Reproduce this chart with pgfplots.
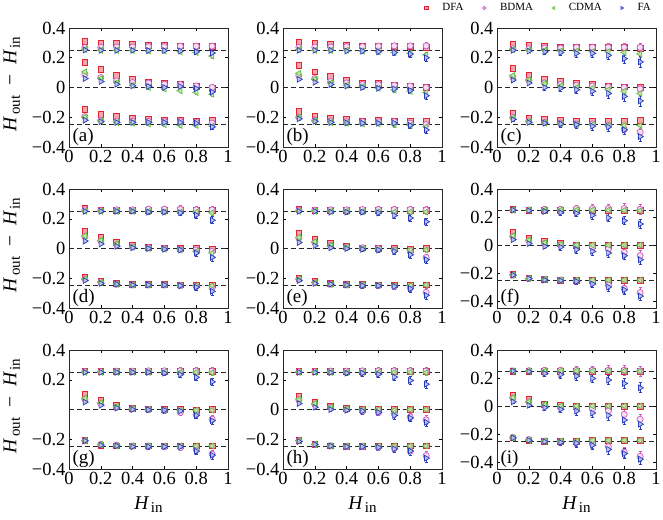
\documentclass[border=0pt]{standalone}
\usepackage{fontspec}
\setmainfont{Liberation Serif}
\newfontfamily\tms{Liberation Serif}
\usepackage{pgfplots}
\usepackage{pgfplotstable}
\pgfplotsset{compat=1.18}

\definecolor{cdfa}{RGB}{232,32,48}
\definecolor{cbdma}{RGB}{208,90,190}
\definecolor{ccdma}{RGB}{100,190,60}
\definecolor{cfa}{RGB}{40,60,190}

% columns: x, DFA (d,de), BDMA (b,be), CDMA (c,ce), FA (f,fe); three groups per panel
\pgfplotstableread{
x d de b be c ce f fe
0.1 0.310 0.008 0.268 0.010 0.255 0.010 0.252 0.008
0.2 0.300 0.008 0.270 0.010 0.250 0.010 0.250 0.008
0.3 0.295 0.008 0.272 0.012 0.250 0.010 0.250 0.010
0.4 0.290 0.008 0.272 0.012 0.248 0.010 0.250 0.010
0.5 0.283 0.008 0.275 0.014 0.245 0.012 0.248 0.012
0.6 0.285 0.008 0.275 0.015 0.245 0.012 0.248 0.012
0.7 0.280 0.008 0.278 0.018 0.240 0.012 0.245 0.014
0.8 0.280 0.008 0.278 0.020 0.235 0.015 0.240 0.016
0.9 0.277 0.010 0.278 0.020 0.212 0.015 0.232 0.018
0.1 0.167 0.008 0.090 0.010 0.105 0.010 0.060 0.008
0.2 0.120 0.008 0.067 0.010 0.060 0.010 0.040 0.008
0.3 0.083 0.008 0.045 0.012 0.033 0.010 0.022 0.010
0.4 0.056 0.008 0.033 0.012 0.015 0.010 0.011 0.010
0.5 0.033 0.008 0.030 0.014 0.000 0.012 0.007 0.012
0.6 0.030 0.008 0.022 0.015 -0.010 0.012 0.000 0.012
0.7 0.022 0.008 0.020 0.018 -0.022 0.012 0.007 0.014
0.8 0.007 0.008 0.010 0.018 -0.033 0.015 -0.007 0.016
0.9 -0.007 0.010 0.000 0.020 -0.045 0.015 -0.030 0.018
0.1 -0.147 0.008 -0.196 0.010 -0.200 0.010 -0.220 0.008
0.2 -0.180 0.008 -0.220 0.010 -0.225 0.010 -0.230 0.008
0.3 -0.196 0.008 -0.225 0.012 -0.235 0.010 -0.235 0.010
0.4 -0.207 0.008 -0.228 0.012 -0.240 0.010 -0.235 0.010
0.5 -0.214 0.008 -0.228 0.014 -0.245 0.012 -0.235 0.012
0.6 -0.219 0.008 -0.230 0.015 -0.250 0.012 -0.235 0.012
0.7 -0.219 0.008 -0.230 0.015 -0.255 0.012 -0.235 0.014
0.8 -0.225 0.008 -0.235 0.018 -0.255 0.015 -0.240 0.016
0.9 -0.220 0.010 -0.240 0.020 -0.260 0.015 -0.265 0.018
}\tabA

\pgfplotstableread{
x d de b be c ce f fe
0.1 0.305 0.008 0.270 0.010 0.255 0.010 0.250 0.008
0.2 0.295 0.008 0.272 0.010 0.250 0.010 0.250 0.010
0.3 0.290 0.008 0.272 0.012 0.250 0.010 0.250 0.010
0.4 0.285 0.008 0.275 0.012 0.250 0.012 0.245 0.012
0.5 0.280 0.008 0.275 0.014 0.245 0.012 0.245 0.014
0.6 0.280 0.008 0.278 0.016 0.240 0.012 0.240 0.016
0.7 0.275 0.008 0.280 0.020 0.235 0.015 0.235 0.020
0.8 0.275 0.008 0.280 0.020 0.230 0.015 0.225 0.022
0.9 0.270 0.010 0.280 0.022 0.220 0.018 0.200 0.025
0.1 0.150 0.008 0.080 0.010 0.095 0.010 0.055 0.008
0.2 0.105 0.008 0.060 0.010 0.055 0.010 0.035 0.010
0.3 0.074 0.008 0.040 0.012 0.030 0.010 0.020 0.010
0.4 0.050 0.008 0.030 0.012 0.015 0.012 0.010 0.012
0.5 0.027 0.008 0.020 0.014 0.005 0.012 0.000 0.014
0.6 0.030 0.008 0.020 0.016 -0.005 0.012 -0.005 0.016
0.7 0.018 0.008 0.015 0.018 -0.015 0.015 -0.010 0.018
0.8 0.007 0.008 0.010 0.020 -0.025 0.015 -0.020 0.020
0.9 0.000 0.010 0.000 0.022 -0.035 0.018 -0.055 0.025
0.1 -0.163 0.008 -0.200 0.010 -0.200 0.010 -0.210 0.008
0.2 -0.192 0.008 -0.220 0.010 -0.225 0.010 -0.228 0.010
0.3 -0.205 0.008 -0.225 0.012 -0.235 0.010 -0.235 0.010
0.4 -0.214 0.008 -0.230 0.012 -0.240 0.012 -0.238 0.012
0.5 -0.225 0.008 -0.230 0.014 -0.245 0.012 -0.240 0.014
0.6 -0.219 0.008 -0.230 0.016 -0.245 0.012 -0.240 0.016
0.7 -0.225 0.008 -0.230 0.018 -0.250 0.015 -0.240 0.018
0.8 -0.228 0.008 -0.240 0.020 -0.255 0.015 -0.255 0.020
0.9 -0.230 0.010 -0.250 0.022 -0.265 0.018 -0.285 0.025
}\tabB

\pgfplotstableread{
x d de b be c ce f fe
0.1 0.290 0.008 0.260 0.010 0.255 0.010 0.250 0.010
0.2 0.282 0.008 0.260 0.012 0.250 0.010 0.245 0.012
0.3 0.275 0.008 0.265 0.014 0.250 0.012 0.240 0.016
0.4 0.270 0.008 0.265 0.016 0.245 0.012 0.235 0.020
0.5 0.270 0.008 0.270 0.018 0.245 0.014 0.230 0.024
0.6 0.270 0.008 0.270 0.022 0.240 0.015 0.230 0.028
0.7 0.268 0.008 0.270 0.024 0.240 0.016 0.216 0.030
0.8 0.268 0.008 0.270 0.025 0.235 0.018 0.194 0.032
0.9 0.265 0.010 0.270 0.025 0.225 0.020 0.172 0.035
0.1 0.127 0.008 0.070 0.010 0.080 0.010 0.050 0.010
0.2 0.085 0.008 0.050 0.012 0.050 0.010 0.030 0.012
0.3 0.056 0.008 0.030 0.014 0.025 0.012 0.000 0.016
0.4 0.045 0.008 0.020 0.016 0.010 0.012 -0.005 0.020
0.5 0.027 0.008 0.015 0.018 0.000 0.014 -0.015 0.024
0.6 0.022 0.008 0.010 0.020 -0.005 0.015 -0.025 0.028
0.7 0.011 0.008 0.005 0.022 -0.015 0.016 -0.040 0.030
0.8 0.004 0.008 0.000 0.024 -0.025 0.018 -0.060 0.032
0.9 0.000 0.010 -0.010 0.025 -0.040 0.020 -0.090 0.035
0.1 -0.175 0.008 -0.200 0.010 -0.205 0.010 -0.215 0.010
0.2 -0.205 0.008 -0.225 0.012 -0.230 0.010 -0.235 0.012
0.3 -0.215 0.008 -0.235 0.014 -0.240 0.012 -0.240 0.016
0.4 -0.220 0.008 -0.240 0.016 -0.245 0.012 -0.245 0.020
0.5 -0.225 0.008 -0.245 0.018 -0.250 0.014 -0.250 0.022
0.6 -0.225 0.008 -0.245 0.020 -0.250 0.015 -0.260 0.026
0.7 -0.225 0.008 -0.255 0.022 -0.255 0.016 -0.265 0.028
0.8 -0.225 0.008 -0.280 0.024 -0.255 0.018 -0.285 0.030
0.9 -0.220 0.010 -0.300 0.025 -0.255 0.020 -0.330 0.032
}\tabC

\pgfplotstableread{
x d de b be c ce f fe
0.1 0.270 0.008 0.260 0.010 0.250 0.010 0.250 0.008
0.2 0.260 0.008 0.255 0.012 0.250 0.010 0.250 0.010
0.3 0.255 0.008 0.260 0.014 0.250 0.010 0.250 0.012
0.4 0.255 0.008 0.260 0.016 0.250 0.012 0.250 0.014
0.5 0.255 0.008 0.265 0.018 0.250 0.012 0.245 0.014
0.6 0.255 0.008 0.265 0.020 0.245 0.012 0.245 0.016
0.7 0.255 0.008 0.265 0.022 0.245 0.014 0.240 0.018
0.8 0.255 0.008 0.260 0.022 0.245 0.015 0.225 0.020
0.9 0.255 0.010 0.260 0.024 0.240 0.016 0.190 0.024
0.1 0.114 0.008 0.080 0.010 0.085 0.010 0.050 0.008
0.2 0.074 0.008 0.050 0.012 0.055 0.010 0.030 0.010
0.3 0.042 0.008 0.025 0.014 0.030 0.010 0.015 0.012
0.4 0.020 0.008 0.010 0.016 0.010 0.012 0.005 0.014
0.5 0.010 0.008 0.005 0.016 0.000 0.012 0.000 0.014
0.6 0.005 0.008 0.000 0.018 -0.005 0.012 -0.005 0.016
0.7 0.000 0.008 -0.005 0.020 -0.010 0.014 -0.010 0.018
0.8 0.000 0.008 -0.010 0.022 -0.020 0.015 -0.030 0.020
0.9 -0.005 0.010 -0.020 0.024 -0.030 0.016 -0.060 0.024
0.1 -0.195 0.008 -0.205 0.010 -0.205 0.010 -0.215 0.008
0.2 -0.220 0.008 -0.225 0.012 -0.228 0.010 -0.235 0.010
0.3 -0.235 0.008 -0.240 0.014 -0.240 0.010 -0.240 0.012
0.4 -0.240 0.008 -0.245 0.014 -0.245 0.012 -0.245 0.014
0.5 -0.240 0.008 -0.245 0.016 -0.245 0.012 -0.245 0.014
0.6 -0.240 0.008 -0.245 0.018 -0.245 0.012 -0.245 0.016
0.7 -0.245 0.008 -0.250 0.020 -0.250 0.014 -0.250 0.018
0.8 -0.245 0.008 -0.255 0.020 -0.250 0.015 -0.260 0.020
0.9 -0.245 0.010 -0.265 0.022 -0.250 0.016 -0.288 0.024
}\tabD

\pgfplotstableread{
x d de b be c ce f fe
0.1 0.265 0.008 0.258 0.010 0.250 0.010 0.250 0.008
0.2 0.255 0.008 0.258 0.012 0.250 0.010 0.250 0.010
0.3 0.255 0.008 0.260 0.014 0.250 0.010 0.245 0.012
0.4 0.255 0.008 0.260 0.016 0.250 0.012 0.245 0.014
0.5 0.255 0.008 0.262 0.018 0.248 0.012 0.245 0.016
0.6 0.255 0.008 0.262 0.020 0.248 0.012 0.240 0.018
0.7 0.255 0.008 0.262 0.022 0.245 0.014 0.222 0.020
0.8 0.255 0.008 0.262 0.024 0.245 0.015 0.205 0.022
0.9 0.255 0.010 0.260 0.024 0.245 0.016 0.180 0.026
0.1 0.100 0.008 0.070 0.010 0.075 0.010 0.040 0.008
0.2 0.065 0.008 0.040 0.012 0.045 0.010 0.018 0.010
0.3 0.035 0.008 0.020 0.014 0.020 0.010 0.005 0.012
0.4 0.015 0.008 0.010 0.016 0.010 0.012 0.000 0.014
0.5 0.005 0.008 0.005 0.018 0.000 0.012 -0.005 0.016
0.6 0.000 0.008 0.000 0.020 -0.005 0.012 -0.010 0.018
0.7 0.000 0.008 -0.010 0.022 -0.010 0.014 -0.020 0.020
0.8 -0.005 0.008 -0.020 0.024 -0.010 0.015 -0.042 0.022
0.9 0.000 0.010 -0.060 0.024 -0.010 0.016 -0.075 0.026
0.1 -0.200 0.008 -0.205 0.010 -0.205 0.010 -0.215 0.008
0.2 -0.220 0.008 -0.230 0.012 -0.228 0.010 -0.235 0.010
0.3 -0.235 0.008 -0.240 0.014 -0.240 0.010 -0.240 0.012
0.4 -0.240 0.008 -0.245 0.016 -0.245 0.012 -0.245 0.014
0.5 -0.240 0.008 -0.245 0.018 -0.245 0.012 -0.250 0.016
0.6 -0.245 0.008 -0.250 0.020 -0.245 0.012 -0.250 0.018
0.7 -0.245 0.008 -0.255 0.022 -0.250 0.014 -0.255 0.020
0.8 -0.245 0.008 -0.265 0.024 -0.250 0.015 -0.270 0.022
0.9 -0.245 0.010 -0.295 0.024 -0.245 0.016 -0.315 0.026
}\tabE

\pgfplotstableread{
x d de b be c ce f fe
0.1 0.257 0.008 0.250 0.010 0.250 0.010 0.250 0.008
0.2 0.250 0.008 0.250 0.014 0.250 0.010 0.245 0.012
0.3 0.250 0.008 0.255 0.018 0.250 0.012 0.240 0.016
0.4 0.250 0.008 0.255 0.022 0.250 0.012 0.232 0.020
0.5 0.250 0.008 0.260 0.026 0.250 0.014 0.226 0.024
0.6 0.250 0.008 0.260 0.030 0.250 0.015 0.212 0.026
0.7 0.250 0.008 0.260 0.032 0.250 0.016 0.195 0.028
0.8 0.250 0.008 0.260 0.034 0.248 0.018 0.174 0.030
0.9 0.250 0.010 0.255 0.035 0.245 0.020 0.150 0.032
0.1 0.093 0.008 0.060 0.010 0.065 0.010 0.038 0.008
0.2 0.050 0.008 0.030 0.014 0.035 0.010 0.010 0.012
0.3 0.030 0.008 0.010 0.018 0.015 0.012 -0.010 0.016
0.4 0.010 0.008 0.000 0.022 0.005 0.012 -0.015 0.020
0.5 0.000 0.008 -0.005 0.026 0.000 0.014 -0.033 0.024
0.6 0.000 0.008 -0.015 0.030 0.000 0.015 -0.045 0.026
0.7 0.000 0.008 -0.030 0.032 0.000 0.016 -0.057 0.028
0.8 0.000 0.008 -0.052 0.034 0.000 0.018 -0.076 0.030
0.9 0.000 0.010 -0.076 0.035 0.000 0.020 -0.105 0.032
0.1 -0.210 0.008 -0.215 0.010 -0.215 0.010 -0.215 0.008
0.2 -0.235 0.008 -0.240 0.014 -0.240 0.010 -0.240 0.012
0.3 -0.245 0.008 -0.245 0.018 -0.245 0.012 -0.250 0.016
0.4 -0.250 0.008 -0.250 0.022 -0.250 0.012 -0.255 0.020
0.5 -0.250 0.008 -0.255 0.026 -0.250 0.014 -0.260 0.024
0.6 -0.250 0.008 -0.260 0.030 -0.250 0.015 -0.279 0.026
0.7 -0.250 0.008 -0.286 0.032 -0.250 0.016 -0.300 0.028
0.8 -0.250 0.008 -0.310 0.034 -0.250 0.018 -0.320 0.030
0.9 -0.250 0.010 -0.340 0.035 -0.250 0.020 -0.365 0.032
}\tabF

\pgfplotstableread{
x d de b be c ce f fe
0.1 0.260 0.008 0.255 0.010 0.250 0.010 0.250 0.008
0.2 0.255 0.008 0.255 0.012 0.250 0.010 0.250 0.010
0.3 0.255 0.008 0.258 0.014 0.250 0.010 0.250 0.012
0.4 0.255 0.008 0.258 0.016 0.250 0.012 0.250 0.014
0.5 0.255 0.008 0.260 0.018 0.250 0.012 0.250 0.016
0.6 0.255 0.008 0.260 0.020 0.250 0.012 0.245 0.018
0.7 0.255 0.008 0.260 0.022 0.250 0.014 0.235 0.020
0.8 0.255 0.008 0.260 0.024 0.250 0.015 0.216 0.022
0.9 0.255 0.010 0.258 0.024 0.248 0.016 0.186 0.026
0.1 0.100 0.008 0.070 0.010 0.075 0.010 0.050 0.008
0.2 0.060 0.008 0.040 0.012 0.045 0.010 0.028 0.010
0.3 0.030 0.008 0.015 0.014 0.020 0.010 0.010 0.012
0.4 0.010 0.008 0.005 0.016 0.005 0.012 0.000 0.014
0.5 0.005 0.008 0.000 0.018 0.000 0.012 -0.002 0.016
0.6 0.000 0.008 -0.005 0.020 -0.005 0.012 -0.005 0.018
0.7 0.000 0.008 -0.020 0.022 -0.005 0.014 -0.010 0.020
0.8 -0.005 0.008 -0.035 0.024 -0.005 0.015 -0.040 0.022
0.9 0.000 0.010 -0.065 0.024 -0.005 0.016 -0.075 0.026
0.1 -0.207 0.008 -0.210 0.010 -0.210 0.010 -0.210 0.008
0.2 -0.240 0.008 -0.235 0.012 -0.235 0.010 -0.240 0.010
0.3 -0.245 0.008 -0.240 0.014 -0.245 0.010 -0.245 0.012
0.4 -0.245 0.008 -0.245 0.016 -0.245 0.012 -0.250 0.014
0.5 -0.245 0.008 -0.245 0.018 -0.245 0.012 -0.250 0.016
0.6 -0.245 0.008 -0.250 0.020 -0.245 0.012 -0.250 0.018
0.7 -0.245 0.008 -0.255 0.022 -0.245 0.014 -0.250 0.020
0.8 -0.245 0.008 -0.270 0.024 -0.245 0.015 -0.280 0.022
0.9 -0.245 0.010 -0.300 0.024 -0.245 0.016 -0.307 0.026
}\tabG

\pgfplotstableread{
x d de b be c ce f fe
0.1 0.255 0.008 0.255 0.010 0.250 0.010 0.250 0.008
0.2 0.255 0.008 0.255 0.012 0.250 0.010 0.250 0.012
0.3 0.255 0.008 0.258 0.014 0.250 0.010 0.248 0.014
0.4 0.255 0.008 0.258 0.018 0.250 0.012 0.245 0.016
0.5 0.255 0.008 0.260 0.020 0.250 0.012 0.245 0.020
0.6 0.255 0.008 0.260 0.022 0.250 0.012 0.237 0.022
0.7 0.255 0.008 0.260 0.024 0.250 0.014 0.218 0.024
0.8 0.255 0.008 0.260 0.026 0.250 0.015 0.195 0.026
0.9 0.255 0.010 0.258 0.028 0.248 0.016 0.170 0.028
0.1 0.088 0.008 0.065 0.010 0.070 0.010 0.040 0.008
0.2 0.050 0.008 0.035 0.012 0.040 0.010 0.015 0.012
0.3 0.020 0.008 0.015 0.014 0.015 0.010 0.000 0.014
0.4 0.010 0.008 0.000 0.018 0.005 0.012 -0.005 0.016
0.5 0.000 0.008 -0.010 0.020 0.000 0.012 -0.010 0.020
0.6 0.000 0.008 -0.020 0.022 0.000 0.012 -0.020 0.022
0.7 0.000 0.008 -0.030 0.024 -0.005 0.014 -0.040 0.024
0.8 0.000 0.008 -0.050 0.026 0.000 0.015 -0.057 0.026
0.9 0.000 0.010 -0.070 0.028 0.000 0.016 -0.086 0.028
0.1 -0.205 0.008 -0.210 0.010 -0.210 0.010 -0.215 0.008
0.2 -0.235 0.008 -0.235 0.012 -0.235 0.010 -0.235 0.012
0.3 -0.245 0.008 -0.245 0.014 -0.245 0.010 -0.245 0.014
0.4 -0.250 0.008 -0.250 0.018 -0.245 0.012 -0.250 0.016
0.5 -0.250 0.008 -0.250 0.020 -0.245 0.012 -0.250 0.020
0.6 -0.245 0.008 -0.255 0.022 -0.245 0.012 -0.255 0.022
0.7 -0.245 0.008 -0.260 0.024 -0.245 0.014 -0.265 0.024
0.8 -0.245 0.008 -0.280 0.026 -0.245 0.015 -0.280 0.026
0.9 -0.245 0.010 -0.310 0.028 -0.245 0.016 -0.327 0.028
}\tabH

\pgfplotstableread{
x d de b be c ce f fe
0.1 0.250 0.008 0.250 0.010 0.250 0.010 0.250 0.008
0.2 0.250 0.008 0.252 0.016 0.250 0.010 0.245 0.014
0.3 0.250 0.008 0.255 0.020 0.250 0.012 0.233 0.020
0.4 0.250 0.008 0.255 0.024 0.250 0.012 0.224 0.024
0.5 0.250 0.008 0.255 0.028 0.250 0.014 0.214 0.028
0.6 0.250 0.008 0.255 0.030 0.250 0.015 0.197 0.030
0.7 0.250 0.008 0.255 0.032 0.250 0.016 0.185 0.032
0.8 0.250 0.008 0.255 0.034 0.250 0.018 0.161 0.034
0.9 0.250 0.010 0.250 0.035 0.248 0.020 0.130 0.036
0.1 0.077 0.008 0.055 0.010 0.060 0.010 0.030 0.008
0.2 0.046 0.008 0.030 0.016 0.030 0.010 0.005 0.014
0.3 0.010 0.008 0.005 0.020 0.010 0.012 -0.012 0.020
0.4 0.005 0.008 -0.010 0.024 0.000 0.012 -0.024 0.024
0.5 0.000 0.008 -0.015 0.028 0.000 0.014 -0.036 0.028
0.6 0.000 0.008 -0.020 0.030 0.000 0.015 -0.050 0.030
0.7 0.000 0.008 -0.035 0.032 0.000 0.016 -0.067 0.032
0.8 0.000 0.008 -0.060 0.034 0.000 0.018 -0.100 0.034
0.9 0.000 0.010 -0.095 0.035 0.000 0.020 -0.130 0.036
0.1 -0.228 0.008 -0.225 0.010 -0.228 0.010 -0.228 0.008
0.2 -0.245 0.008 -0.240 0.016 -0.245 0.010 -0.245 0.014
0.3 -0.250 0.008 -0.250 0.020 -0.250 0.012 -0.255 0.020
0.4 -0.250 0.008 -0.255 0.024 -0.250 0.012 -0.260 0.024
0.5 -0.250 0.008 -0.260 0.028 -0.250 0.014 -0.265 0.028
0.6 -0.245 0.008 -0.270 0.030 -0.245 0.015 -0.280 0.030
0.7 -0.245 0.008 -0.290 0.032 -0.245 0.016 -0.310 0.032
0.8 -0.245 0.008 -0.330 0.034 -0.245 0.018 -0.340 0.034
0.9 -0.245 0.010 -0.360 0.035 -0.245 0.020 -0.380 0.036
}\tabI

\newcommand{\Hs}[1]{\textit{H}\kern1.5pt\raisebox{-0.4ex}{\fontsize{15}{15}\selectfont #1}}
\newcommand{\tl}[1]{\mbox{\tms\fontsize{18.5}{20}\selectfont #1}}

\pgfplotsset{
  panel/.style={
    width=159pt, height=119pt, scale only axis,
    xmin=0, xmax=1, ymin=-0.4, ymax=0.4,
    xtick={0,0.2,0.4,0.6,0.8,1},
    xticklabels={\tl{0},\tl{0.2},\tl{0.4},\tl{0.6},\tl{0.8},\tl{1}},
    ytick={-0.4,-0.2,0,0.2,0.4},
    yticklabels={\tl{−0.4},\tl{−0.2},\tl{0},\tl{0.2},\tl{0.4}},
    tick align=inside, major tick length=3pt,
    tick style={black, line width=0.5pt},
    ticklabel style={font=\tms\fontsize{18.5}{20}\selectfont},
    axis line style={black!85, line width=0.8pt},
    label style={font=\tms\fontsize{19.5}{21}\selectfont},
  },
  errs/.style={error bars/.cd, y dir=both, y explicit,
    error bar style={line width=0.7pt, #1,
      preaction={draw, #1!30, line width=2.4pt}},
    error mark options={rotate=90, line width=0.7pt, mark size=1.6pt, #1}},
  sDFA/.style={only marks, color=cdfa, mark=square*, mark size=2.9pt,
    mark options={fill=cdfa!40, draw=cdfa, line width=0.7pt}, errs=cdfa},
  sBDMA/.style={only marks, color=cbdma, mark=*, mark size=3.1pt,
    mark options={fill=cbdma!20, draw=cbdma, line width=0.7pt}, errs=cbdma},
  sCDMA/.style={only marks, color=ccdma, mark=triangle*, mark size=3.4pt,
    mark options={rotate=90, fill=ccdma!40, draw=ccdma, line width=0.7pt}, errs=ccdma},
  sFA/.style={only marks, color=cfa, mark=triangle*, mark size=3.4pt,
    mark options={rotate=-90, fill=cfa!30, draw=cfa, line width=0.7pt}, errs=cfa},
  dashline/.style={black!85, line width=0.7pt, dash pattern=on 5pt off 3pt},
  ylab/.style={ylabel={\Hs{out}\enspace−\enspace\Hs{in}},
    ylabel style={at={(axis description cs:-0.36,0.53)}, anchor=center}},
  xlab/.style={xlabel={\Hs{in}},
    xlabel style={at={(axis description cs:0.5,-0.30)}, anchor=center}},
}

\newcommand{\panelplots}[2]{%
  \addplot[forget plot, dashline] coordinates {(0,0.25) (1,0.25)};
  \addplot[forget plot, dashline] coordinates {(0,0) (1,0)};
  \addplot[forget plot, dashline] coordinates {(0,-0.25) (1,-0.25)};
  \addplot[sDFA] table[x=x, y=d, y error=de] {#1};
  \addplot[sBDMA] table[x=x, y=b, y error=be] {#1};
  \addplot[sCDMA] table[x=x, y=c, y error=ce] {#1};
  \addplot[sFA] table[x=x, y=f, y error=fe] {#1};
  \node[anchor=south west, inner sep=1pt, font=\tms\fontsize{19}{20}\selectfont]
    at (rel axis cs:0.015,0.005) {(#2)};
}

\begin{document}
\begin{tikzpicture}
\useasboundingbox (0pt,0pt) rectangle (663pt,-519pt);

% row 1
\begin{axis}[panel, ylab, at={(69pt,-28pt)}, anchor=north west]
  \panelplots{\tabA}{a}
\end{axis}
\begin{axis}[panel, at={(283pt,-28pt)}, anchor=north west]
  \panelplots{\tabB}{b}
\end{axis}
\begin{axis}[panel, at={(497pt,-28pt)}, anchor=north west,
  legend columns=4,
  legend style={draw=none, fill=none, at={(1.0,1.168)}, anchor=east,
    font=\tms\fontsize{11}{12}\selectfont,
    /tikz/every odd column/.style={column sep=12pt},
    /tikz/every even column/.style={column sep=17pt}},
  legend image post style={mark size=1.8pt, fill=white}]
  \panelplots{\tabC}{c}
  \legend{DFA,BDMA,CDMA,FA}
\end{axis}

% row 2
\begin{axis}[panel, ylab, at={(69pt,-189pt)}, anchor=north west]
  \panelplots{\tabD}{d}
\end{axis}
\begin{axis}[panel, at={(283pt,-189pt)}, anchor=north west]
  \panelplots{\tabE}{e}
\end{axis}
\begin{axis}[panel, ymin=-0.45, at={(497pt,-189pt)}, anchor=north west]
  \panelplots{\tabF}{f}
\end{axis}

% row 3
\begin{axis}[panel, ylab, xlab, at={(69pt,-350pt)}, anchor=north west,
  ytick={-0.4,-0.2,0.2,0.4},
  yticklabels={\tl{−0.4},\tl{−0.2},\tl{0.2},\tl{0.4}}]
  \panelplots{\tabG}{g}
\end{axis}
\begin{axis}[panel, xlab, at={(283pt,-350pt)}, anchor=north west]
  \panelplots{\tabH}{h}
\end{axis}
\begin{axis}[panel, xlab, ymin=-0.45, at={(497pt,-350pt)}, anchor=north west]
  \panelplots{\tabI}{i}
\end{axis}
\end{tikzpicture}
\end{document}
